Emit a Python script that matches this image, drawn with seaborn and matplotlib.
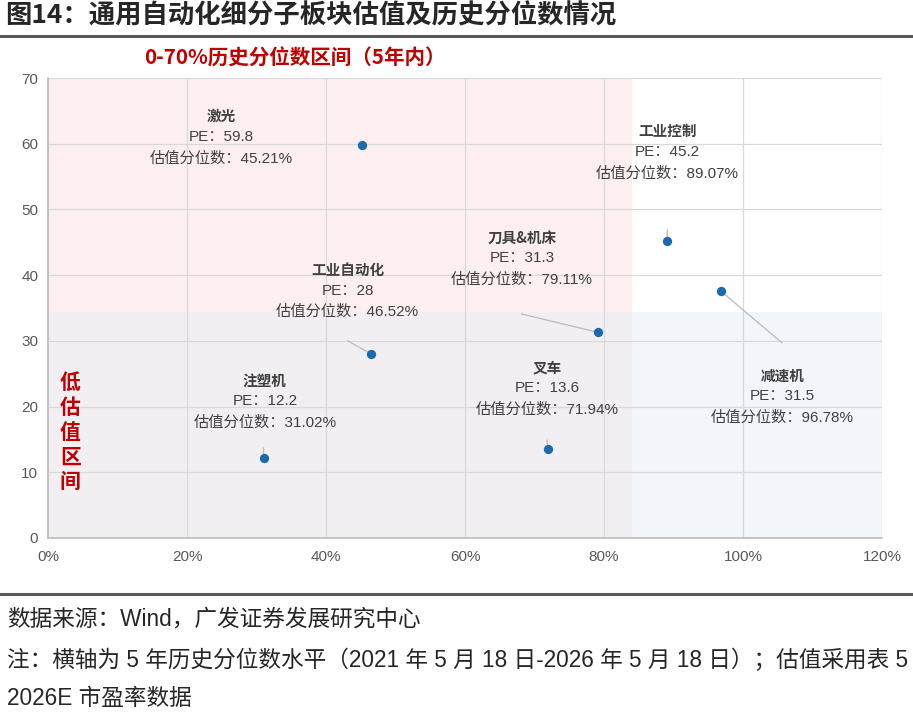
import matplotlib
matplotlib.use("Agg")
import matplotlib.pyplot as plt
import seaborn as sns
import pandas as pd
from matplotlib.patches import Rectangle
from matplotlib.ticker import FuncFormatter

# ---------------- data ----------------
sectors = ["激光", "工业控制", "刀具&机床", "工业自动化", "注塑机", "叉车", "减速机"]
percentile = [45.21, 89.07, 79.11, 46.52, 31.02, 71.94, 96.78]      # x, %
pe_plotted = [59.8, 45.2, 31.3, 28.0, 12.2, 13.6, 37.6]             # y position as drawn
pe_label = ["59.8", "45.2", "31.3", "28", "12.2", "13.6", "31.5"]   # PE shown in label
pct_label = ["45.21%", "89.07%", "79.11%", "46.52%", "31.02%", "71.94%", "96.78%"]

# label anchor (centre x, name-line y) and leader line start
label_x = [25.0, 89.1, 68.2, 43.1, 31.2, 71.8, 105.7]
label_y = [64.2, 61.9, 45.7, 40.8, 24.0, 26.0, 24.7]
leader_x = [None, 89.1, 68.1, 43.1, 31.0, 71.8, 105.6]
leader_y = [None, 46.9, 34.1, 30.0, 13.7, 14.9, 29.7]

x_ticks = [0, 20, 40, 60, 80, 100, 120]
y_ticks = [0, 10, 20, 30, 40, 50, 60, 70]
pink_zone = (0, 84, 0, 70)      # x0, x1, y0, y1
blue_zone = (0, 120, 0, 34.4)

df = pd.DataFrame({"sector": sectors, "pct": percentile, "pe": pe_plotted})

# ---------------- style ----------------
sns.set_theme(style="white")
LATIN_CJK = ["Liberation Sans", "Noto Sans CJK SC", "DejaVu Sans"]
CJK = ["Noto Sans CJK SC", "DejaVu Sans"]
plt.rcParams["font.family"] = LATIN_CJK
plt.rcParams["axes.unicode_minus"] = False

fig = plt.figure(figsize=(9.13, 7.12), dpi=100)
ax = fig.add_axes([0.0526, 0.2444, 0.9135, 0.646])

# shaded zones
ax.add_patch(Rectangle((pink_zone[0], pink_zone[2]), pink_zone[1] - pink_zone[0],
                       pink_zone[3] - pink_zone[2], facecolor="#FDEDED", alpha=0.85,
                       edgecolor="none", zorder=0))
ax.add_patch(Rectangle((blue_zone[0], blue_zone[2]), blue_zone[1] - blue_zone[0],
                       blue_zone[3] - blue_zone[2], facecolor="#E9F0F8", alpha=0.55,
                       edgecolor="none", zorder=0.5))

sns.scatterplot(data=df, x="pct", y="pe", ax=ax, color="#1C6AAE", s=45,
                edgecolor="#1C6AAE", linewidth=0, zorder=5, legend=False)

ax.set_xlim(0, 120)
ax.set_ylim(0, 70)
ax.set_xticks(x_ticks)
ax.set_yticks(y_ticks)
ax.xaxis.set_major_formatter(FuncFormatter(lambda v, p: f"{int(v)}%"))
ax.set_xlabel("")
ax.set_ylabel("")
ax.grid(True, color="#D9D9D9", linewidth=0.9, zorder=1)
ax.set_axisbelow(True)
for s in ["top", "right"]:
    ax.spines[s].set_visible(False)
ax.spines["left"].set_color("#BFBFBF")
ax.spines["bottom"].set_color("#BFBFBF")
ax.tick_params(axis="both", colors="#595959", labelsize=11, length=0, pad=7)
ax.tick_params(axis="x", pad=9)

# labels
line_gap = 3.15
for i, name in enumerate(sectors):
    lx, ly = label_x[i], label_y[i]
    ax.text(lx, ly, name, ha="center", va="center", fontsize=10.5,
            fontweight="bold", color="#404040", zorder=6, family=CJK)
    ax.text(lx, ly - line_gap, f"PE：{pe_label[i]}", ha="center", va="center",
            fontsize=11, color="#404040", zorder=6)
    ax.text(lx, ly - 2 * line_gap - 0.1, f"估值分位数：{pct_label[i]}", ha="center",
            va="center", fontsize=11, color="#404040", zorder=6)
    if leader_x[i] is not None:
        ax.plot([leader_x[i], percentile[i]], [leader_y[i], pe_plotted[i]],
                color="#BFBFBF", linewidth=1.0, zorder=4)

# zone texts
ax.text(35.5, 73.0, "0-70%历史分位数区间（5年内）", ha="center", va="center",
        fontsize=14.8, fontweight="bold", color="#C00000", clip_on=False, family=CJK)
ax.text(3.2, 16.1, "\n".join("低估值区间"), ha="center", va="center",
        fontsize=15, fontweight="bold", color="#C00000", linespacing=1.22, family=CJK)

# title and footer
fig.text(0.006, 0.977, "图14：通用自动化细分子板块估值及历史分位数情况", ha="left",
         va="center", fontsize=19, fontweight="bold", color="#262626", family=CJK)
fig.add_artist(plt.Line2D([0, 1], [0.949, 0.949], color="#595959", linewidth=2.2))
fig.add_artist(plt.Line2D([0, 1], [0.166, 0.166], color="#595959", linewidth=2.2))
fig.text(0.008, 0.130, "数据来源：Wind，广发证券发展研究中心", ha="left", va="center",
         fontsize=16.3, color="#262626")
fig.text(0.008, 0.073, "注：横轴为 5 年历史分位数水平（2021 年 5 月 18 日-2026 年 5 月 18 日）；估值采用表 5",
         ha="left", va="center", fontsize=16.3, color="#262626")
fig.text(0.008, 0.019, "2026E 市盈率数据", ha="left", va="center", fontsize=16.3,
         color="#262626")

fig.savefig("out.png", dpi=100)
